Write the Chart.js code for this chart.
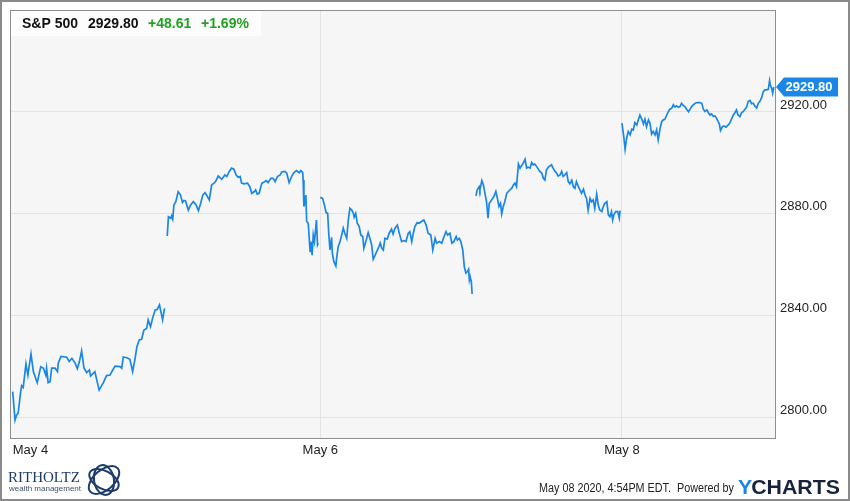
<!DOCTYPE html>
<html>
<head>
<meta charset="utf-8">
<script src="https://cdn.jsdelivr.net/npm/chart.js@4"></script>
<style>
html, body { margin: 0; padding: 0; background: #fff; }
canvas { display: block; }
</style>
</head>
<body>
<canvas id="chart" width="850" height="501" style="width:850px;height:501px"></canvas>
<script>
// S&P 500 intraday, minutes after the 9:30 open, 5-minute bars
const dayLabels = ['May 4', 'May 5', 'May 6', 'May 7', 'May 8'];
const barsPerDay = [79, 79, 79, 76, 79];
const tickDays = [0, 2, 4];
const yTicks = [2800, 2840, 2880, 2920];
const prevClose = 2881.19;

const may4Min = [0,6,10,14,21,23,27,34,39,47,53,63,72,79,85,87,91,96,100,109,115,117,124,139,145,152,160,166,171,177,183,190,197,200,211,222,233,241,250,257,263,276,280,284,293,301,308,314,319,325,331,337,344,348,354,360,366,371,377,385,390];
const may4Val = [2810.0,2798.8,2800.8,2801.5,2810.6,2812.3,2811.6,2820.9,2816.5,2824.8,2817.9,2813.5,2819.8,2819.2,2816.5,2819.2,2813.5,2813.9,2819.2,2819.2,2817.9,2821.2,2823.8,2823.5,2821.8,2823.1,2821.3,2819.0,2821.6,2826.0,2819.3,2817.5,2818.5,2816.1,2817.8,2810.6,2813.5,2816.3,2816.5,2818.5,2820.0,2819.8,2819.2,2823.6,2823.3,2822.7,2817.9,2822.7,2827.7,2830.3,2830.6,2834.2,2834.8,2838.2,2835.5,2839.3,2842.1,2842.3,2844.1,2838.2,2842.7];

const may5Min = [2,5,11,13,16,19,24,30,36,41,45,49,56,62,69,76,82,88,93,99,103,110,116,122,126,133,142,150,155,161,167,173,179,184,189,193,199,208,214,219,225,229,233,238,245,250,256,261,268,274,279,285,292,296,304,309,315,322,327,334,341,345,350,351,353,358,360,364,369,371,374,377,380,383,385,388,390];
const may5Val = [2871.2,2878.8,2878.2,2879.1,2877.8,2883.4,2884.7,2888.6,2887.3,2884.4,2885.2,2885.0,2881.4,2883.4,2884.7,2883.4,2881.2,2884.1,2887.3,2888.3,2887.3,2885.4,2891.3,2892.0,2892.6,2894.8,2893.5,2895.2,2894.6,2896.5,2897.9,2897.5,2895.2,2894.3,2894.6,2892.0,2891.7,2892.0,2890.6,2888.0,2888.6,2889.3,2887.7,2888.0,2892.0,2892.3,2893.0,2892.2,2893.9,2893.9,2892.6,2894.6,2895.2,2896.4,2896.6,2895.9,2892.2,2894.8,2896.1,2896.9,2896.1,2896.9,2896.1,2893.2,2882.8,2887.3,2876.9,2876.2,2865.1,2869.0,2863.7,2871.6,2869.0,2873.6,2877.5,2867.7,2868.4];

const may6Min = [0,6,10,15,19,22,25,29,31,35,40,42,46,51,55,59,63,68,72,76,81,85,87,91,95,100,104,109,112,117,123,128,132,136,141,145,149,154,158,162,166,172,177,183,187,192,198,203,209,215,220,226,230,235,239,243,249,254,260,266,272,277,284,289,295,299,306,312,318,323,327,333,338,343,349,352,357,361,366,370,374,378,381,383,385,388,390];
const may6Val = [2886.4,2886.0,2883.8,2880.4,2880.1,2871.6,2865.7,2870.7,2864.4,2861.1,2859.4,2862.5,2867.0,2869.0,2871.6,2874.3,2872.3,2870.3,2877.5,2882.1,2881.4,2880.1,2878.6,2880.1,2876.2,2874.9,2871.6,2871.0,2866.4,2869.0,2872.5,2870.0,2867.7,2862.1,2863.7,2865.1,2866.4,2868.4,2866.4,2865.7,2870.3,2870.0,2872.3,2873.9,2872.0,2874.3,2875.5,2872.3,2869.0,2869.4,2869.0,2872.3,2872.9,2869.0,2872.3,2874.9,2876.5,2876.2,2876.9,2877.5,2875.5,2872.3,2871.6,2865.7,2870.3,2868.4,2869.0,2868.4,2871.0,2872.9,2871.6,2872.3,2868.4,2869.0,2871.0,2869.6,2870.3,2869.0,2865.7,2859.1,2856.6,2857.2,2858.1,2853.9,2855.2,2853.3,2848.4];

const may7Min = [5,8,13,15,20,24,28,32,36,39,45,51,56,60,64,68,71,75,79,84,88,92,97,101,105,109,114,118,122,126,131,135,139,144,148,152,156,161,165,169,174,178,182,186,191,195,199,203,208,212,216,221,225,229,233,238,242,246,251,255,259,263,268,272,276,281,285,289,293,298,302,306,310,315,319,323,328,332,336,341,345,349,353,356,359,364,369,373,375];
const may7Val = [2887.0,2889.3,2890.6,2889.3,2893.0,2891.3,2888.0,2884.7,2878.2,2884.1,2885.4,2886.7,2888.7,2886.0,2882.8,2884.1,2879.9,2882.8,2884.7,2888.0,2888.7,2889.3,2890.0,2891.3,2892.0,2890.6,2899.5,2897.9,2898.8,2899.8,2901.4,2897.9,2898.3,2897.9,2900.1,2899.2,2899.5,2898.5,2897.5,2896.6,2895.9,2893.9,2893.2,2897.2,2898.3,2898.8,2899.2,2897.9,2896.6,2896.0,2894.8,2895.2,2896.6,2894.6,2895.2,2896.1,2892.6,2891.7,2893.2,2890.6,2890.0,2892.6,2890.6,2889.3,2888.0,2889.6,2887.3,2886.0,2881.4,2886.0,2884.7,2885.4,2882.1,2887.7,2883.4,2881.4,2880.8,2882.8,2884.1,2884.7,2879.5,2878.8,2880.8,2877.5,2879.5,2880.8,2880.8,2878.2,2881.2];

const may8Min = [0,5,8,12,16,21,25,29,33,38,42,46,51,55,59,63,68,72,76,80,85,89,93,98,102,106,110,115,119,123,128,132,136,140,145,149,153,158,162,166,171,175,179,183,188,194,200,205,209,213,218,222,226,230,235,239,243,247,250,253,258,262,267,273,277,281,286,290,294,298,303,307,311,316,320,324,329,333,337,341,346,350,354,359,363,367,372,376,379,381,385,387,390];
const may8Val = [2915.6,2909.7,2905.3,2909.7,2912.3,2911.0,2913.2,2912.9,2915.8,2914.9,2916.9,2918.8,2917.1,2915.3,2917.1,2914.2,2916.9,2915.6,2911.3,2912.3,2911.0,2913.0,2909.0,2913.6,2916.2,2916.9,2917.1,2918.8,2920.1,2921.1,2921.5,2922.8,2921.9,2922.4,2921.8,2922.1,2923.4,2922.4,2922.1,2921.1,2920.1,2921.1,2922.1,2922.8,2923.4,2923.7,2923.7,2923.4,2921.1,2920.2,2920.8,2919.7,2918.8,2919.2,2918.2,2918.4,2917.5,2916.2,2915.3,2912.7,2914.2,2914.5,2914.0,2914.9,2915.6,2917.1,2918.8,2919.7,2920.8,2918.8,2918.2,2919.7,2920.1,2921.1,2921.9,2924.1,2924.5,2923.2,2923.4,2922.4,2921.5,2923.4,2924.1,2925.8,2928.0,2928.7,2928.7,2929.0,2932.3,2930.6,2929.0,2927.4,2929.8];

const dayMins = [may4Min, may5Min, may6Min, may7Min, may8Min];
const dayVals = [may4Val, may5Val, may6Val, may7Val, may8Val];

const FONT = '"Liberation Sans", Arial, sans-serif';
const lineBlue = '#1a87e6';
const gridColor = '#e3e3e3';
const upGreen = '#21a021';

// first bar of each day on a continuous bar axis
const dayStart = [];
let acc = 0;
barsPerDay.forEach(n => { dayStart.push(acc); acc += n; });

const lastPrice = may8Val[may8Val.length - 1];
const change = lastPrice - prevClose;
const changePct = change / prevClose * 100;

const datasets = dayMins.map((mins, d) => ({
    data: mins.map((m, i) => ({ x: dayStart[d] + m / 5, y: dayVals[d][i] })),
    borderColor: lineBlue,
    borderWidth: 1.7,
    pointRadius: 0,
    tension: 0,
    fill: false
}));

const decor = {
    id: 'decor',
    beforeDraw(chart) {
        const { ctx, chartArea: a } = chart;
        ctx.save();
        ctx.fillStyle = '#fff';
        ctx.fillRect(0, 0, chart.width, chart.height);
        ctx.fillStyle = '#f6f6f6';
        ctx.fillRect(a.left, a.top, a.right - a.left, a.bottom - a.top);
        ctx.restore();
    },
    afterDraw(chart) {
        const { ctx, chartArea: a, scales } = chart;
        ctx.save();

        // plot frame
        ctx.strokeStyle = '#8e8e8e';
        ctx.lineWidth = 1;
        ctx.strokeRect(a.left + 0.5, a.top + 0.5, a.right - a.left, a.bottom - a.top);

        // header box
        ctx.fillStyle = '#fdfdfd';
        ctx.fillRect(a.left + 1, a.top + 1, 250, 25);
        ctx.textBaseline = 'alphabetic';
        ctx.textAlign = 'left';
        ctx.font = 'bold 14px ' + FONT;
        ctx.fillStyle = '#111';
        ctx.fillText('S&P 500', 22, 28);
        ctx.fillText(lastPrice.toFixed(2), 88, 28);
        ctx.fillStyle = upGreen;
        ctx.fillText('+' + change.toFixed(2), 148, 28);
        ctx.fillText('+' + changePct.toFixed(2) + '%', 201, 28);

        // last price tag
        const py = scales.y.getPixelForValue(lastPrice);
        const tx = a.right + 1;
        ctx.fillStyle = lineBlue;
        ctx.beginPath();
        ctx.moveTo(tx, py);
        ctx.lineTo(tx + 8, py - 9.5);
        ctx.lineTo(tx + 62, py - 9.5);
        ctx.lineTo(tx + 62, py + 9.5);
        ctx.lineTo(tx + 8, py + 9.5);
        ctx.closePath();
        ctx.fill();
        ctx.fillStyle = '#fff';
        ctx.font = 'bold 13px ' + FONT;
        ctx.textAlign = 'center';
        ctx.textBaseline = 'middle';
        ctx.fillText(lastPrice.toFixed(2), tx + 33, py + 0.5);

        // footer
        ctx.textBaseline = 'alphabetic';
        ctx.textAlign = 'left';
        ctx.font = '12px ' + FONT;
        ctx.fillStyle = '#222';
        const foot = 'May 08 2020, 4:54PM EDT.  Powered by';
        const fw = ctx.measureText(foot).width;
        ctx.save();
        ctx.translate(539, 492);
        ctx.scale(195 / fw, 1);
        ctx.fillText(foot, 0, 0);
        ctx.restore();
        ctx.font = 'bold 21px ' + FONT;
        const yw = ctx.measureText('Y').width;
        const cw = ctx.measureText('CHARTS').width;
        ctx.save();
        ctx.translate(738, 494);
        ctx.scale(102 / (yw + cw - 1), 1);
        ctx.fillStyle = lineBlue;
        ctx.fillText('Y', 0, 0);
        ctx.fillStyle = '#15233f';
        ctx.fillText('CHARTS', yw - 1, 0);
        ctx.restore();

        // logo
        ctx.fillStyle = '#1d3c6b';
        ctx.font = '15px "Liberation Serif", serif';
        ctx.fillText('RITHOLTZ', 8, 482);
        ctx.font = '8px ' + FONT;
        ctx.fillStyle = '#3a4f70';
        ctx.fillText('wealth management', 9, 491);
        ctx.strokeStyle = '#1d3c6b';
        ctx.lineWidth = 2;
        [[-0.7, 18, 10], [0.5, 16, 9], [1.4, 15, 10]].forEach(([r, rx, ry]) => {
            ctx.beginPath();
            ctx.ellipse(104, 480, rx, ry, r, 0, Math.PI * 2);
            ctx.stroke();
        });

        // outer border
        ctx.strokeStyle = '#8a8a8a';
        ctx.lineWidth = 2;
        ctx.strokeRect(1, 1, chart.width - 2, chart.height - 2);
        ctx.restore();
    }
};

new Chart(document.getElementById('chart').getContext('2d'), {
    type: 'line',
    data: { datasets },
    options: {
        responsive: false,
        animation: false,
        devicePixelRatio: 1,
        layout: { padding: { left: 10, top: 10, right: 0, bottom: 0 } },
        plugins: { legend: { display: false }, tooltip: { enabled: false } },
        scales: {
            x: {
                type: 'linear',
                min: -1.39,
                max: 391.6,
                afterBuildTicks: s => {
                    s.ticks = tickDays.map(d => ({ value: dayStart[d] })).concat([{ value: s.max }]);
                },
                afterFit: s => { s.height = 63; s.paddingLeft = 0; s.paddingRight = 0; },
                grid: {
                    drawTicks: false,
                    color: c => (c.index === 0 || c.index === tickDays.length) ? 'rgba(0,0,0,0)' : gridColor
                },
                border: { display: false },
                ticks: {
                    autoSkip: false,
                    maxRotation: 0,
                    align: 'inner',
                    padding: 5,
                    color: '#222',
                    font: { family: FONT, size: 13 },
                    callback: (v, i) => i < tickDays.length ? dayLabels[tickDays[i]] : ''
                }
            },
            y: {
                position: 'right',
                min: 2791.75,
                max: 2960.1,
                afterBuildTicks: s => { s.ticks = yTicks.map(v => ({ value: v })); },
                afterFit: s => { s.width = 75; s.paddingTop = 0; s.paddingBottom = 0; },
                grid: { drawTicks: false, color: gridColor },
                border: { display: false },
                ticks: {
                    padding: 5,
                    labelOffset: -7,
                    color: '#222',
                    font: { family: FONT, size: 13 },
                    callback: v => v.toFixed(2)
                }
            }
        }
    },
    plugins: [decor]
});
</script>
</body>
</html>
